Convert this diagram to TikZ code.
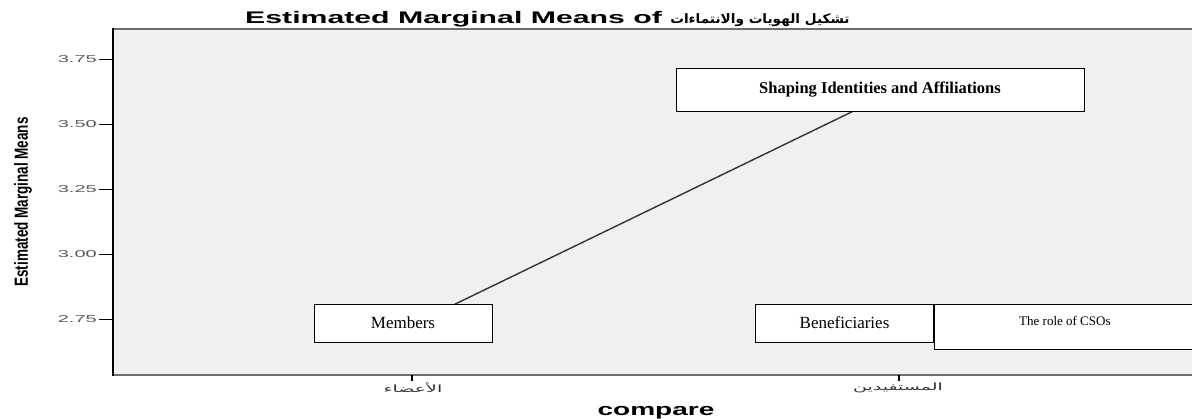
\documentclass[tikz,border=0pt]{standalone}
\usepackage{fontspec}
\setmainfont{Liberation Serif}
\newfontfamily\titlefont[FakeStretch=1.8]{Liberation Sans}
\newfontfamily\labelfont[FakeStretch=1.65]{Liberation Sans}
\newfontfamily\tickfont[FakeStretch=2]{Liberation Sans}
\newfontfamily\narrowfont[FakeStretch=0.71]{Liberation Sans}
\newfontfamily\arabictitle[Script=Arabic, FakeStretch=1.05]{DejaVu Sans}
\newfontfamily\arabictick[Script=Arabic, FakeStretch=1.9]{DejaVu Sans}
\TeXXeTstate=1
\usetikzlibrary{positioning}
\definecolor{plot-bg}{HTML}{F0F0F0}
\definecolor{frame-gray}{HTML}{6E6E6E}
\tikzstyle{group-box} = [rectangle, minimum width=178pt, minimum height=38pt, inner sep=0pt, text centered, draw=black, fill=white, line width=0.9pt, font=\fontsize{17}{20}\selectfont]
\tikzstyle{title-box} = [rectangle, minimum width=408pt, minimum height=43pt, inner sep=0pt, text centered, draw=black, fill=white, line width=0.9pt, font=\fontsize{16.5}{20}\selectfont\bfseries]
\tikzstyle{note-box} = [rectangle, minimum width=261pt, minimum height=45pt, inner sep=0pt, text depth=12pt, text centered, draw=black, fill=white, line width=0.9pt, font=\fontsize{13}{16}\selectfont]
\tikzstyle{tick-mark} = [black, line width=1.3pt]
\tikzstyle{tick-label} = [inner sep=0pt, text=black!65, font=\tickfont\fontsize{10}{12}\selectfont]
\tikzstyle{cat-label} = [inner sep=0pt, text=black!80, font=\arabictick\fontsize{10}{12}\selectfont]
\tikzstyle{mean-line} = [black!80, line width=1.4pt]

\begin{document}
\begin{tikzpicture}[x=1pt, y=-1pt]
        \useasboundingbox (0,0) rectangle (1192,418);

        % plot area
        \fill[plot-bg] (113,29) rectangle (1192,375);
        \draw[frame-gray, line width=1.5pt] (113,29) -- (1192,29);
        \draw[frame-gray, line width=2pt] (113,375) -- (1192,375);
        \draw[black, line width=2pt] (113,28) -- (113,376);

        % y axis
        \foreach \val/\ypos in {3.75/59.3, 3.50/124.3, 3.25/189.3, 3.00/254.3, 2.75/319.3} {
            \draw[tick-mark] (99,\ypos) -- (113,\ypos);
            \node (tick-\val) [tick-label, anchor=east] at (97,\ypos) {\val};
        }
        \node (y-label) [rotate=90, inner sep=0pt, font=\narrowfont\bfseries\fontsize{19}{22}\selectfont] at (23,202) {Estimated Marginal Means};

        % x axis
        \draw[tick-mark] (412,375) -- (412,381);
        \draw[tick-mark] (899,375) -- (899,381);
        \node (cat-members) [cat-label] at (413,388) {\beginR الأعضاء\endR};
        \node (cat-beneficiaries) [cat-label] at (898,388) {\beginR المستفيدين\endR};
        \node (x-label) [anchor=base, inner sep=0pt, font=\labelfont\bfseries\fontsize{17}{20}\selectfont] at (656,415) {compare};

        % title
        \node (title) [anchor=base west, inner sep=0pt, font=\titlefont\bfseries\fontsize{16.8}{20}\selectfont] at (245,23) {Estimated Marginal Means of {\arabictitle\fontsize{13}{16}\selectfont\beginR تشكيل الهويات والانتماءات\endR}};

        % means
        \coordinate (members-mean) at (412,325);
        \coordinate (beneficiaries-mean) at (899,89);
        \draw[mean-line] (members-mean) -- (beneficiaries-mean);

        % labels
        \node (shaping) [title-box] at (880,89.5) {Shaping Identities and Affiliations};
        \node (members) [group-box] at (403,323) {Members};
        \node (beneficiaries) [group-box] at (844.5,323) {Beneficiaries};
        \node (csos) [note-box, anchor=north west] at (beneficiaries.north east) {The role of CSOs};
\end{tikzpicture}
\end{document}
